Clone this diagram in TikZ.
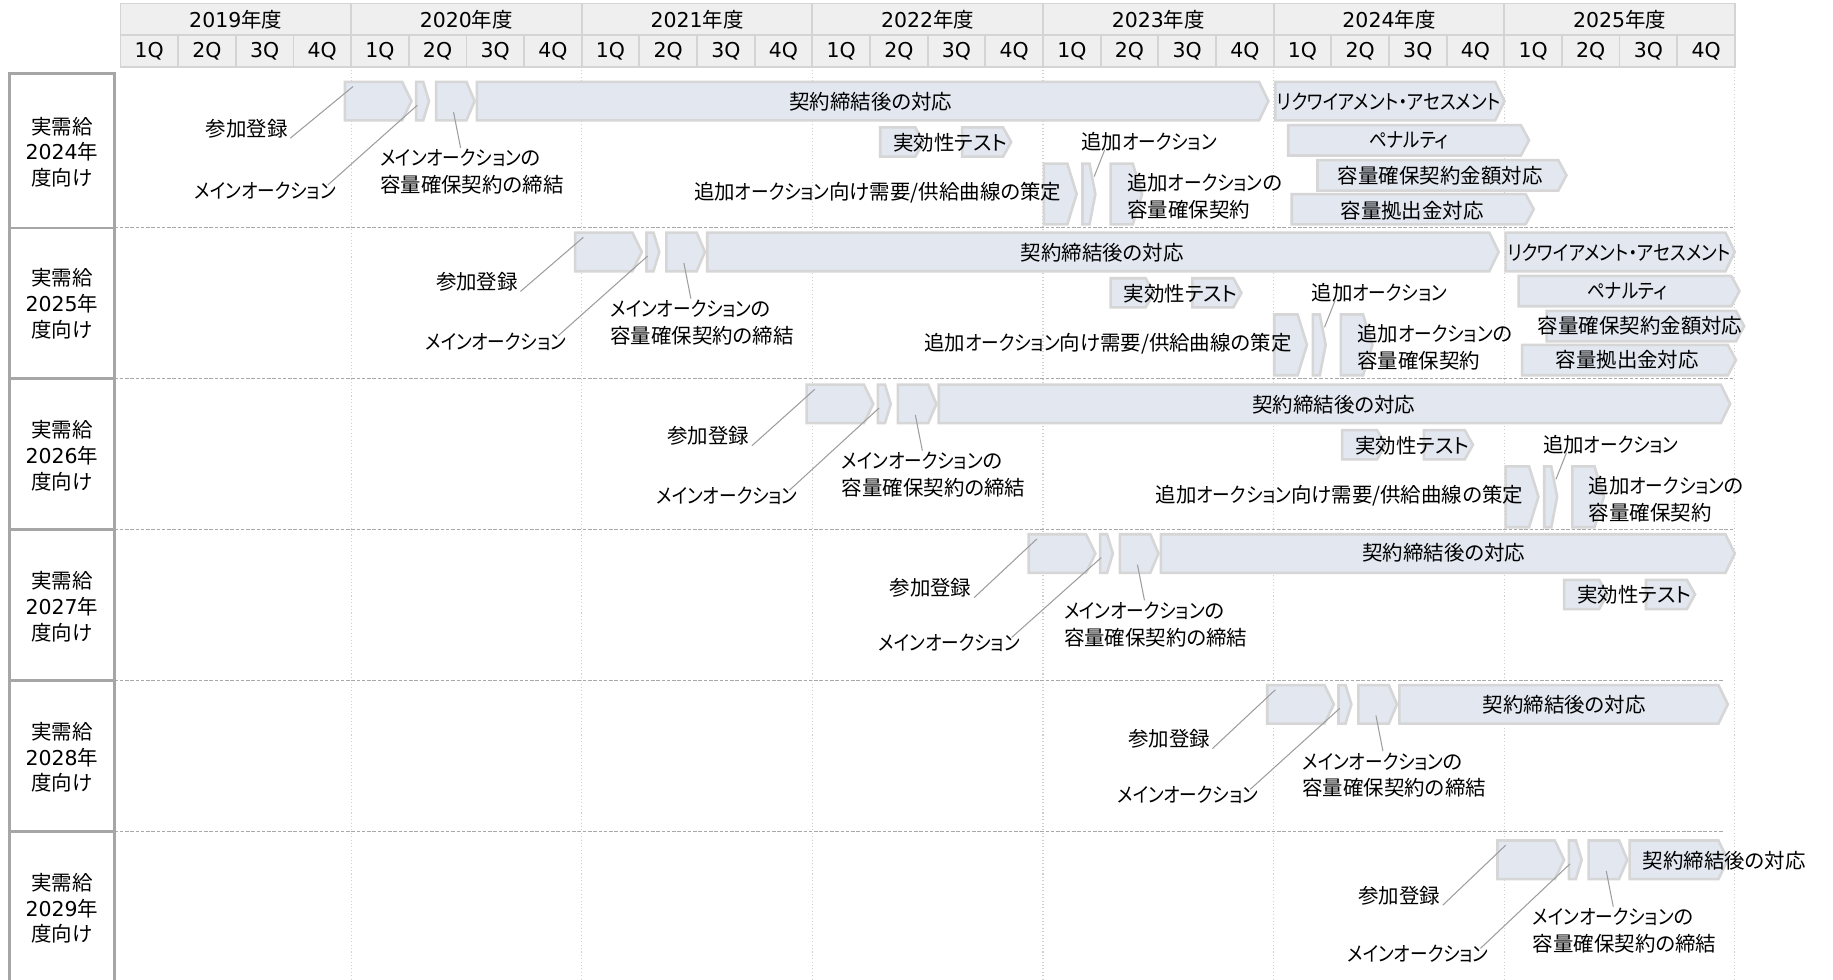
\documentclass[tikz,border=0pt]{standalone}
\usepackage{fontspec}
\setmainfont{Noto Sans CJK JP}[RawFeature=+palt]
\newfontfamily\dvfont{DejaVu Sans}
\newcommand\dg[1]{{\dvfont #1}}
\newcommand\kt[1]{\scalebox{0.86}[1]{#1}}
\definecolor{barfill}{HTML}{E2E7F0}
\definecolor{barline}{HTML}{D6D6D6}
\definecolor{hdrfill}{HTML}{EFEFEF}
\definecolor{hdrline}{HTML}{D4D4D4}
\definecolor{boxline}{HTML}{A6A6A6}
\definecolor{leadc}{HTML}{9E9E9E}
\definecolor{gridc}{HTML}{CFCFCF}
\definecolor{sepc}{HTML}{A8A8A8}
\tikzset{
 barstyle/.style={fill=barfill, draw=barline, line width=2.2pt, line join=miter},
 lbl/.style={inner sep=1pt, font=\fontsize{17.5}{23}\selectfont},
 leader/.style={draw=leadc, line width=0.9pt},
 hdr/.style={fill=hdrfill, draw=hdrline, line width=1.5pt},
 gridline/.style={draw=gridc, line width=0.9pt, dotted},
 sepline/.style={draw=sepc, line width=0.9pt, dash pattern=on 3pt off 1.5pt},
 rowbox/.style={draw=boxline, line width=2.4pt, fill=white},
}
\newcommand\pentshape[6]{%
 \node[inner sep=0pt, outer sep=0pt, minimum width={(#4)-(#2)}, minimum height={(#5)-(#3)}, anchor=north west] (#1) at (#2,#3) {};
 \draw[barstyle] (#1.north west) -- ([xshift=-#6pt]#1.north east) -- (#1.east) -- ([xshift=-#6pt]#1.south east) -- (#1.south west) -- cycle;}
% #1 prefix, #2 dx, #3 dy, #4 extra y of 参加登録 label, #5 extra y of メインオークション label
\newcommand\reggroup[5]{%
 \begin{scope}[shift={(#2,#3)}]
 \pentshape{#1A}{295}{70}{352}{103}{8}
 \pentshape{#1B}{356}{70}{367}{103}{5}
 \pentshape{#1C}{373}{70}{406}{103}{7}
 \node[lbl] (#1reg) at (211,{110+#4}) {参加登録};
 \node[lbl] (#1main) at (227,{163+#5}) {\kt{メインオークション}};
 \node[lbl, align=left, anchor=west] (#1con) at (324,147) {\kt{メインオークション}の\\容量確保契約の締結};
 \draw[leader] ([shift={(1,-1)}]#1reg.south east) -- ([shift={(7,4)}]#1A.north west);
 \draw[leader] ([shift={(-8,4)}]#1main.north east) -- ([shift={(1,20)}]#1B.north west);
 \draw[leader] ([shift={(70,0)}]#1con.north west) -- ([shift={(15,26)}]#1C.north west);
 \end{scope}}
\newcommand\testgroup[3]{%
 \begin{scope}[shift={(#2,#3)}]
 \pentshape{#1T1}{753}{109}{790}{134}{7}
 \pentshape{#1T2}{823}{109}{865}{134}{7}
 \node[lbl] (#1test) at (813,122) {実効性テスト};
 \end{scope}}
\newcommand\addgroup[3]{%
 \begin{scope}[shift={(#2,#3)}]
 \pentshape{#1F}{893}{140}{921}{192}{8}
 \pentshape{#1G}{926}{140}{937}{192}{5}
 \pentshape{#1H}{950}{140}{977}{192}{8}
 \node[lbl, anchor=east] (#1curve) at (909,165) {追加\kt{オークション}向け需要/供給曲線の策定};
 \node[lbl] (#1add) at (983,121) {追加\kt{オークション}};
 \node[lbl, align=left, anchor=west] (#1addcon) at (963,168) {追加\kt{オークション}の\\容量確保契約};
 \draw[leader] ([shift={(21,-2)}]#1add.south west) -- ([shift={(10,11)}]#1G.north west);
 \end{scope}}
\begin{document}
\begin{tikzpicture}[x=1pt, y=-1pt]
\fill[white] (0,0) rectangle (1568,838);
\useasboundingbox (0,0) rectangle (1568,838);
% header
\foreach \i/\yr in {0/2019,1/2020,2/2021,3/2022,4/2023,5/2024,6/2025} {
  \pgfmathsetmacro\xa{103+197.3*\i}
  \draw[hdr] (\xa,3) rectangle ({\xa+197.3},30);
  \node[lbl] (yr\yr) at ({\xa+98.65},16.5) {\dg{\yr}年度};
  \foreach \q in {1,2,3,4} {
    \draw[hdr] ({\xa+49.325*(\q-1)},30) rectangle ({\xa+49.325*\q},57);
    \node[lbl] (q\yr-\q) at ({\xa+49.325*(\q-0.5)},43.5) {\dg{\q Q}};
  }
}
% grid
\foreach \i in {1,...,7} \draw[gridline] ({103+197.3*\i},57) -- ({103+197.3*\i},838);
\draw[sepline] (98,195) -- (1484,195);
\draw[sepline] (98,324) -- (1484,324);
\draw[sepline] (98,453) -- (1484,453);
\draw[sepline] (98,582) -- (1475,582);
\draw[sepline] (98,711) -- (1475,711);
% left boxes
\foreach \yr/\ya/\yb/\yc in {2024/63/195/130, 2025/195/324/260, 2026/324/453/390, 2027/453/582/519, 2028/582/711/648, 2029/711/850/777} {
  \draw[rowbox] (8,\ya) rectangle (98,\yb);
  \node[lbl, align=center, font=\fontsize{17.5}{22}\selectfont] (row\yr) at (53,\yc) {実需給\\\dg{\yr}年\\度向け};
}
% row 1
\reggroup{a}{0}{0}{0}{0}
\pentshape{aD}{408}{70}{1085}{103}{8}
\node[lbl] (aDt) at (745,87) {契約締結後の対応};
\testgroup{a}{0}{0}
\addgroup{a}{0}{0}
\pentshape{aE}{1091}{70}{1287}{103}{8}
\node[lbl] (aEt) at (1188,87) {\kt{リクワイアメント・アセスメント}};
\pentshape{aP}{1102}{107}{1308}{133}{7}
\node[lbl] (aPt) at (1205,120) {\kt{ペナルティ}};
\pentshape{aK}{1127}{137}{1340}{163}{7}
\node[lbl] (aKt) at (1232,150) {容量確保契約金額対応};
\pentshape{aS}{1105}{166}{1312}{192}{7}
\node[lbl] (aSt) at (1208,180) {容量拠出金対応};
% row 2
\reggroup{b}{197}{129}{2}{0}
\pentshape{bD}{605}{199}{1282}{232}{8}
\node[lbl] (bDt) at (943,216) {契約締結後の対応};
\testgroup{b}{197}{129}
\addgroup{b}{197}{129}
\pentshape{bE}{1288}{199}{1484}{232}{8}
\node[lbl] (bEt) at (1385,216) {\kt{リクワイアメント・アセスメント}};
\pentshape{bP}{1299}{236}{1488}{262}{7}
\node[lbl] (bPt) at (1392,249) {\kt{ペナルティ}};
\pentshape{bK}{1323}{266}{1492}{292}{7}
\node[lbl] (bKt) at (1403,279) {容量確保契約金額対応};
\pentshape{bS}{1302}{295}{1485}{321}{7}
\node[lbl] (bSt) at (1392,308) {容量拠出金対応};
% row 3
\reggroup{c}{395}{259}{4}{2}
\pentshape{cD}{803}{329}{1480}{362}{8}
\node[lbl] (cDt) at (1141,346) {契約締結後の対応};
\testgroup{c}{395}{259}
\addgroup{c}{395}{259}
% row 4
\reggroup{d}{585}{387}{6}{0}
\pentshape{dD}{993}{457}{1484}{490}{8}
\node[lbl] (dDt) at (1235,473) {契約締結後の対応};
\testgroup{d}{585}{387}
% row 5
\reggroup{e}{789}{516}{6}{1}
\pentshape{eD}{1197}{586}{1478}{619}{8}
\node[lbl] (eDt) at (1338,603) {契約締結後の対応};
% row 6
\reggroup{f}{986}{649}{7}{4}
\pentshape{fD}{1394}{719}{1478}{752}{8}
\node[lbl, anchor=west] (fDt) at (1404,736) {契約締結後の対応};
\end{tikzpicture}
\end{document}
